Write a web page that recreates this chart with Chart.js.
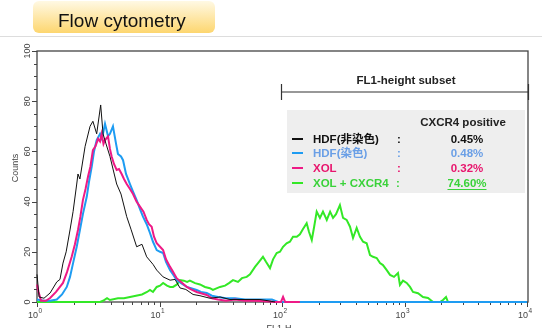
<!DOCTYPE html>
<html>
<head>
<meta charset="utf-8">
<script src="https://cdn.jsdelivr.net/npm/chart.js@4"></script>
<style>
  html, body { margin: 0; padding: 0; background: #fff; }
  #wrap { width: 542px; height: 328px; }
</style>
</head>
<body>
<div id="wrap"><canvas id="flow" width="542" height="328"></canvas></div>
<script>
// FL1-H channel values and counts
const hdfUnstainedFL = [1.00, 1.04, 1.14, 1.28, 1.45, 1.54, 1.63, 1.73, 1.86, 1.97, 2.11, 2.16, 2.24, 2.47, 2.71, 2.86, 3.07, 3.31, 3.46, 3.66, 3.94, 4.47, 4.85, 5.40, 5.85, 6.51, 7.19, 7.86, 8.85, 9.49, 10.7, 12.2, 13.4, 14.7, 16.4, 18.8, 21.4, 25.8, 31.2, 37.6, 45.4, 54.8, 66.1, 76.9, 87.7];
const hdfUnstainedCounts = [11, 2, 1.5, 3.6, 8, 9, 15.5, 20, 28.7, 36, 47, 51, 49, 62, 70, 72, 67, 78.5, 67, 63, 58, 47, 43, 34, 29, 22, 23, 18, 15, 12.7, 10, 8.7, 9, 5.6, 5, 3, 2.5, 1.5, 2, 1, 1, 1, 1, 0.5, 0];

const hdfStainedFL = [1.00, 1.14, 1.28, 1.45, 1.60, 1.75, 1.86, 1.97, 2.11, 2.24, 2.37, 2.55, 2.66, 2.80, 2.92, 3.07, 3.27, 3.39, 3.59, 3.80, 3.94, 4.17, 4.42, 4.58, 4.85, 5.04, 5.33, 5.74, 6.08, 6.51, 6.93, 7.33, 7.86, 8.36, 8.85, 9.49, 10.1, 10.7, 11.3, 12.2, 12.9, 13.8, 15.0, 16.7, 18.1, 20.1, 21.8, 24.3, 26.8, 30.0, 34.9, 41.3, 49.9, 60.2, 72.7, 82.8, 92.7, 10000];
const hdfStainedCounts = [1, 0.5, 0.5, 1, 3, 6, 10, 15.5, 22, 28.7, 35, 42, 48, 54, 60, 64.5, 67, 65, 71, 66, 67, 70, 63, 59, 58, 56.5, 51, 47, 44, 40.6, 37, 34, 31, 27.5, 24, 20.7, 20, 19.5, 16, 12.7, 11, 8.7, 7.5, 6, 5.5, 4.8, 4, 3.6, 2.5, 2, 1.5, 1.5, 1, 1, 1, 1, 0, 0];

const xolFL = [1.00, 1.03, 1.08, 1.18, 1.28, 1.43, 1.63, 1.76, 1.92, 2.04, 2.16, 2.26, 2.37, 2.49, 2.61, 2.73, 2.86, 3.00, 3.15, 3.27, 3.37, 3.49, 3.59, 3.80, 3.94, 4.07, 4.25, 4.47, 4.67, 4.91, 5.13, 5.40, 5.74, 6.08, 6.49, 6.93, 7.40, 7.86, 8.21, 8.63, 9.02, 9.49, 10.1, 10.7, 11.3, 12.2, 12.9, 13.8, 15.0, 16.7, 18.1, 20.1, 21.8, 24.3, 26.8, 30.0, 34.9, 41.3, 49.9, 60.2, 72.7, 87.7, 98.1, 102, 106, 140];
const xolCounts = [7, 4, 0.5, 0.5, 1.6, 4, 7.6, 12, 18, 23, 28.7, 34, 40.6, 45, 50, 54, 60.5, 62, 65, 64, 67, 63, 64.5, 66, 61, 58, 55, 52.6, 53, 51, 49, 47, 45, 43, 40, 38, 36, 32.7, 31, 30, 26, 23.4, 22, 20.7, 17, 14, 12, 9.5, 8, 6, 5, 4, 3.5, 2.8, 1.5, 1, 0.5, 1, 0.5, 0.5, 0.3, 0, 0, 2, 0, 0];

const xolCxcr4FL = [1, 3.27, 3.46, 3.73, 3.94, 4.58, 5.13, 5.74, 6.43, 7.19, 7.91, 8.36, 8.85, 9.49, 10.1, 10.7, 11.5, 12.2, 12.9, 13.9, 14.7, 15.8, 16.8, 17.7, 19.5, 21.4, 23.5, 25.8, 27.3, 29.5, 31.2, 34.3, 36.9, 39.8, 43.7, 47.1, 51.5, 54.8, 60.2, 64.9, 69.9, 74.0, 79.8, 84.5, 90.5, 96.3, 102, 109, 116, 123, 132, 140, 148, 159, 166, 175, 183, 192, 204, 216, 232, 247, 261, 276, 297, 315, 337, 359, 380, 407, 433, 459, 491, 523, 553, 593, 631, 667, 716, 762, 821, 885, 918, 972, 1042, 1109, 1173, 1289, 1416, 1556, 1710, 1950, 2061, 2183, 2265, 10000];
const xolCxcr4Counts = [0, 0, 0.5, 1.5, 0.8, 1.5, 1.5, 2, 2.5, 3, 4, 4.8, 4, 6, 6.5, 7.6, 6.5, 6, 6, 7, 8.7, 8.5, 8, 8.5, 7.5, 7, 6, 5.5, 4.8, 5.5, 6, 6.5, 7.5, 8.7, 8, 9.5, 10, 11, 14, 16, 18, 16, 13.5, 17, 19.5, 20, 22, 23.4, 24, 26, 26, 27, 29, 31.4, 28, 24.7, 30, 36, 33.5, 36, 32.7, 36, 33.5, 35, 38.6, 33.5, 32.7, 30, 25.5, 29.5, 26, 24, 23.4, 18.7, 18, 17.5, 15.5, 14.7, 12.7, 10.8, 10, 11.5, 6.8, 8.5, 7.6, 6, 4, 3.5, 2, 1.6, 0, 0, 0.8, 2, 0, 0];

const yTicks = [0, 20, 40, 60, 80, 100];
const xDecades = [1, 10, 100, 1000, 10000];
const legendNames = ["HDF(非染色)", "HDF(染色)", "XOL", "XOL + CXCR4"];
const legendPositive = ["0.45%", "0.48%", "0.32%", "74.60%"];

const LINE_COLORS = ["#111111", "#1e9cf2", "#ee1a86", "#33e826"];
const TEXT_COLORS = ["#111111", "#6a9fe6", "#e8156d", "#3ad23a"];

function toPoints(xs, ys) {
  return xs.map((x, i) => ({ x: x, y: ys[i] }));
}

const decor = {
  id: "decor",
  beforeDraw(chart) {
    const ctx = chart.ctx;
    ctx.save();
    ctx.fillStyle = "#fff";
    ctx.fillRect(0, 0, chart.width, chart.height);

    // title tab
    const g = ctx.createLinearGradient(0, 1, 0, 33);
    g.addColorStop(0, "#fff9e4");
    g.addColorStop(1, "#fdd66f");
    ctx.fillStyle = g;
    ctx.beginPath();
    ctx.roundRect(33, 1, 182, 32, 6);
    ctx.fill();
    ctx.fillStyle = "#111";
    ctx.font = "19px Arial, 'Liberation Sans', sans-serif";
    ctx.textBaseline = "alphabetic";
    ctx.fillText("Flow cytometry", 58, 27);

    ctx.strokeStyle = "#dddddd";
    ctx.lineWidth = 1;
    ctx.beginPath();
    ctx.moveTo(0, 36.5);
    ctx.lineTo(chart.width, 36.5);
    ctx.stroke();
    ctx.restore();
  },
  beforeDatasetsDraw(chart) {
    const ctx = chart.ctx;
    const xs = chart.scales.x;
    const ys = chart.scales.y;
    const left = xs.getPixelForValue(1);
    const right = xs.getPixelForValue(10000);
    const top = ys.getPixelForValue(100);
    const bottom = ys.getPixelForValue(0);
    ctx.save();

    // legend panel
    ctx.fillStyle = "#eeeeee";
    ctx.fillRect(287, 110, 238, 83);

    // frame
    ctx.strokeStyle = "#444";
    ctx.lineWidth = 1.3;
    ctx.strokeRect(left, top, right + 1 - left, bottom - top);

    // y ticks every 5
    ctx.lineWidth = 1;
    ctx.beginPath();
    for (let v = 0; v <= 100; v += 5) {
      const py = Math.round(ys.getPixelForValue(v)) + 0.5;
      const len = v % 20 === 0 ? 5 : 3;
      ctx.moveTo(left, py);
      ctx.lineTo(left - len, py);
    }
    // x ticks, decades and 2..9
    xDecades.forEach((d, i) => {
      const px = Math.round(xs.getPixelForValue(d)) + 0.5;
      ctx.moveTo(px, bottom);
      ctx.lineTo(px, bottom + 5);
      if (i < xDecades.length - 1) {
        for (let m = 2; m <= 9; m++) {
          const mx = Math.round(xs.getPixelForValue(d * m)) + 0.5;
          ctx.moveTo(mx, bottom);
          ctx.lineTo(mx, bottom + 3);
        }
      }
    });
    ctx.stroke();

    // FL1-height subset bracket
    const bx0 = xs.getPixelForValue(100) - 0.5;
    const bx1 = right + 1.5;
    ctx.strokeStyle = "#333";
    ctx.lineWidth = 1.2;
    ctx.beginPath();
    ctx.moveTo(bx0, 92);
    ctx.lineTo(bx1, 92);
    ctx.moveTo(bx0, 84);
    ctx.lineTo(bx0, 100);
    ctx.moveTo(bx1, 84);
    ctx.lineTo(bx1, 100);
    ctx.stroke();
    ctx.restore();
  },
  afterDraw(chart) {
    const ctx = chart.ctx;
    const xs = chart.scales.x;
    const ys = chart.scales.y;
    ctx.save();

    // y labels (rotated)
    ctx.fillStyle = "#444";
    ctx.font = "9px Arial, 'Liberation Sans', sans-serif";
    ctx.textAlign = "center";
    ctx.textBaseline = "middle";
    yTicks.forEach((v) => {
      ctx.save();
      ctx.translate(28, ys.getPixelForValue(v));
      ctx.rotate(-Math.PI / 2);
      ctx.fillText(String(v), 0, 0);
      ctx.restore();
    });
    ctx.save();
    ctx.translate(16, 168);
    ctx.rotate(-Math.PI / 2);
    ctx.fillText("Counts", 0, 0);
    ctx.restore();

    // x labels 10^n
    ctx.textBaseline = "alphabetic";
    xDecades.forEach((d, i) => {
      const px = xs.getPixelForValue(d);
      ctx.font = "9px Arial, 'Liberation Sans', sans-serif";
      ctx.textAlign = "right";
      ctx.fillText("10", px + 1, 318);
      ctx.font = "6.5px Arial, 'Liberation Sans', sans-serif";
      ctx.textAlign = "left";
      ctx.fillText(String(i), px + 1.5, 313);
    });
    ctx.font = "9px Arial, 'Liberation Sans', sans-serif";
    ctx.textAlign = "center";
    ctx.fillText("FL1-H", 279, 331);

    // subset header
    const fam = "Arial, 'Liberation Sans', 'Noto Sans CJK JP', sans-serif";
    ctx.fillStyle = "#222";
    ctx.font = "bold 11.5px " + fam;
    ctx.fillText("FL1-height subset", 406, 84);
    ctx.fillText("CXCR4 positive", 463, 126);

    const rowY = [143, 157, 172, 187];
    legendNames.forEach((name, i) => {
      const y = rowY[i];
      ctx.strokeStyle = LINE_COLORS[i];
      ctx.lineWidth = 2;
      ctx.beginPath();
      ctx.moveTo(292, y - 4);
      ctx.lineTo(303, y - 4);
      ctx.stroke();
      ctx.fillStyle = TEXT_COLORS[i];
      ctx.font = "bold 11.5px " + fam;
      ctx.textAlign = "left";
      ctx.fillText(name, 313, y);
      ctx.fillText(":", i === 3 ? 396 : 397, y);
      ctx.textAlign = "center";
      ctx.fillText(legendPositive[i], 467, y);
      if (i === 3) {
        const w = ctx.measureText(legendPositive[i]).width;
        ctx.strokeStyle = TEXT_COLORS[i];
        ctx.lineWidth = 1;
        ctx.beginPath();
        ctx.moveTo(467 - w / 2, y + 2.5);
        ctx.lineTo(467 + w / 2, y + 2.5);
        ctx.stroke();
      }
    });
    ctx.restore();
  },
};

function histo(label, xs, ys, color, width, order) {
  return {
    label: label,
    data: toPoints(xs, ys),
    borderColor: color,
    borderWidth: width,
    pointRadius: 0,
    tension: 0,
    fill: false,
    order: order,
    clip: 4,
  };
}

new Chart(document.getElementById("flow"), {
  type: "line",
  data: {
    datasets: [
      histo(legendNames[0], hdfUnstainedFL, hdfUnstainedCounts, LINE_COLORS[0], 1, 0),
      histo(legendNames[2], xolFL, xolCounts, LINE_COLORS[2], 2, 1),
      histo(legendNames[1], hdfStainedFL, hdfStainedCounts, LINE_COLORS[1], 2, 2),
      histo(legendNames[3], xolCxcr4FL, xolCxcr4Counts, LINE_COLORS[3], 2, 3),
    ],
  },
  options: {
    responsive: false,
    animation: false,
    devicePixelRatio: 1,
    parsing: true,
    layout: { padding: { left: 37, right: 15, top: 51, bottom: 26 } },
    plugins: { legend: { display: false }, tooltip: { enabled: false } },
    scales: {
      x: { type: "logarithmic", min: 1, max: 10000, display: false },
      y: { type: "linear", min: 0, max: 100, display: false },
    },
  },
  plugins: [decor],
});
</script>
</body>
</html>
